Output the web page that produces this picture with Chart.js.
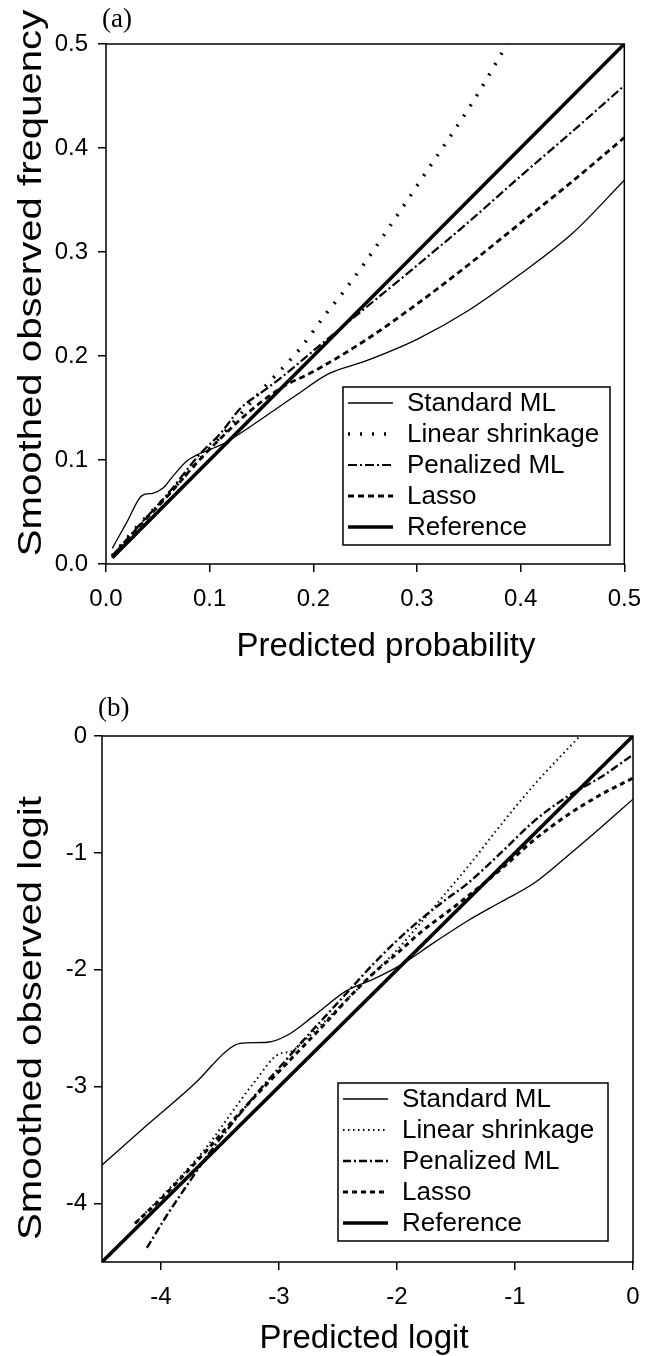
<!DOCTYPE html>
<html lang="en">
<head>
<meta charset="UTF-8">
<title>Calibration plots</title>
<script src="https://cdn.jsdelivr.net/npm/chart.js@4.4.1/dist/chart.umd.min.js"></script>
<style>
  html, body { margin: 0; padding: 0; background: #fff; }
  .panel { width: 654px; height: 678px; }
  canvas { display: block; }
</style>
</head>
<body>
<div class="panel"><canvas id="chartA" width="654" height="678"></canvas></div>
<div class="panel"><canvas id="chartB" width="654" height="678"></canvas></div>

<script>
// series names (same order in both panels)
const seriesNames = ['Standard ML', 'Linear shrinkage', 'Penalized ML', 'Lasso', 'Reference'];

// ---- panel (a): probability scale ----
const aStdX = [0.006, 0.02, 0.035, 0.045, 0.055, 0.065, 0.078, 0.09, 0.1, 0.114, 0.13, 0.158, 0.183, 0.215, 0.25, 0.3, 0.35, 0.4, 0.45, 0.5];
const aStdY = [0.015, 0.04, 0.066, 0.068, 0.073, 0.085, 0.099, 0.106, 0.11, 0.116, 0.126, 0.145, 0.162, 0.183, 0.195, 0.216, 0.244, 0.279, 0.318, 0.369];
const aLinX = [0.006, 0.03, 0.06, 0.09, 0.12, 0.15, 0.188, 0.211, 0.227, 0.25, 0.272, 0.309, 0.353, 0.387];
const aLinY = [0.008, 0.036, 0.067, 0.1, 0.133, 0.167, 0.208, 0.239, 0.259, 0.29, 0.322, 0.377, 0.443, 0.5];
const aPenX = [0.006, 0.03, 0.06, 0.09, 0.11, 0.13, 0.15, 0.17, 0.2, 0.25, 0.3, 0.35, 0.4, 0.45, 0.5];
const aPenY = [0.008, 0.035, 0.068, 0.105, 0.125, 0.15, 0.165, 0.18, 0.205, 0.246, 0.287, 0.329, 0.373, 0.416, 0.46];
const aLasX = [0.006, 0.03, 0.06, 0.09, 0.12, 0.14, 0.17, 0.2, 0.25, 0.3, 0.35, 0.4, 0.45, 0.5];
const aLasY = [0.007, 0.034, 0.066, 0.1, 0.13, 0.148, 0.17, 0.185, 0.215, 0.25, 0.288, 0.328, 0.368, 0.41];
const aRefX = [0.006, 0.5];
const aRefY = [0.006, 0.5];
const aTickValues = [0, 0.1, 0.2, 0.3, 0.4, 0.5];
const aTickLabels = ['0.0', '0.1', '0.2', '0.3', '0.4', '0.5'];

// ---- panel (b): logit scale ----
const bStdX = [-4.5, -4.12, -3.7, -3.44, -3.33, -3.1, -2.93, -2.7, -2.43, -2.2, -1.97, -1.69, -1.4, -1.12, -0.84, -0.56, -0.27, 0];
const bStdY = [-3.67, -3.33, -2.96, -2.69, -2.63, -2.62, -2.56, -2.39, -2.18, -2.08, -1.96, -1.77, -1.58, -1.42, -1.26, -1.03, -0.78, -0.54];
const bLinX = [-4.22, -3.9, -3.6, -3.4, -3.2, -3.0, -2.9, -2.8, -2.6, -2.4, -2.2, -2.0, -1.8, -1.55, -1.4, -1.12, -0.84, -0.45];
const bLinY = [-4.17, -3.84, -3.5, -3.22, -2.95, -2.72, -2.7, -2.62, -2.43, -2.23, -2.03, -1.83, -1.6, -1.3, -1.12, -0.76, -0.42, 0];
const bPenX = [-4.12, -3.95, -3.75, -3.6, -3.4, -3.2, -3.0, -2.8, -2.6, -2.4, -2.2, -2.0, -1.8, -1.6, -1.4, -1.12, -0.84, -0.56, -0.27, 0];
const bPenY = [-4.38, -4.1, -3.8, -3.58, -3.32, -3.07, -2.84, -2.61, -2.39, -2.17, -1.95, -1.75, -1.57, -1.41, -1.26, -1.0, -0.73, -0.52, -0.35, -0.16];
const bLasX = [-4.22, -4.0, -3.8, -3.6, -3.4, -3.2, -3.0, -2.8, -2.6, -2.4, -2.2, -2.0, -1.8, -1.5, -1.12, -0.84, -0.56, -0.27, 0];
const bLasY = [-4.17, -3.96, -3.75, -3.53, -3.3, -3.08, -2.87, -2.66, -2.45, -2.23, -2.03, -1.86, -1.68, -1.45, -1.14, -0.89, -0.68, -0.5, -0.36];
const bRefX = [-4.5, 0];
const bRefY = [-4.5, 0];
const bTickValues = [-4, -3, -2, -1, 0];
const bTickLabels = ['-4', '-3', '-2', '-1', '0'];

const FONT = "'Liberation Sans', Arial, Helvetica, sans-serif";

function pts(xs, ys) {
    return xs.map((x, i) => ({x: x, y: ys[i]}));
}

// line styles: [width, dash]
const stylesA = [[1.3, []], [3.5, [2, 10]], [2.2, [9, 3, 2, 3]], [2.8, [6, 4]], [3.6, []]];
const stylesB = [[1.3, []], [2, [1.5, 3.5]], [2.4, [8, 3, 2, 3]], [3, [5, 4]], [3.6, []]];

function makeDatasets(series, styles) {
    return series.map((s, i) => ({
        label: seriesNames[i],
        data: pts(s[0], s[1]),
        borderColor: '#000',
        backgroundColor: '#000',
        borderWidth: styles[i][0],
        borderDash: styles[i][1],
        pointRadius: 0,
        cubicInterpolationMode: 'monotone',
        fill: false
    }));
}

// box around plot, panel letter, axis titles and inner legend
const framePlugin = {
    id: 'frame',
    afterDraw(chart, args, opts) {
        const ctx = chart.ctx;
        const a = chart.chartArea;
        ctx.save();
        ctx.strokeStyle = '#000';
        ctx.lineWidth = 1.5;
        ctx.setLineDash([]);
        ctx.strokeRect(a.left, a.top, a.right - a.left, a.bottom - a.top);

        ctx.fillStyle = '#000';
        // panel letter
        ctx.font = "27px 'Liberation Serif', 'Times New Roman', serif";
        ctx.textBaseline = 'middle';
        ctx.textAlign = 'left';
        ctx.fillText(opts.letter, a.left - 4, opts.letterY);

        // x title
        ctx.font = '33px ' + FONT;
        ctx.textAlign = 'center';
        ctx.textBaseline = 'alphabetic';
        ctx.fillText(opts.xTitle.text, opts.xTitle.x, opts.xTitle.y);

        // y title (rotated, slightly stretched along its length like the scan)
        ctx.save();
        ctx.translate(opts.yTitle.x, opts.yTitle.y);
        ctx.rotate(-Math.PI / 2);
        ctx.scale(1.18, 1);
        ctx.font = '34px ' + FONT;
        ctx.fillText(opts.yTitle.text, 0, 0);
        ctx.restore();

        // legend
        const L = opts.legend;
        ctx.fillStyle = '#fff';
        ctx.fillRect(L.left, L.top, L.width, L.height);
        ctx.strokeStyle = '#000';
        ctx.lineWidth = 1.5;
        ctx.strokeRect(L.left, L.top, L.width, L.height);
        ctx.font = '26px ' + FONT;
        ctx.textAlign = 'left';
        ctx.textBaseline = 'middle';
        chart.data.datasets.forEach((ds, i) => {
            const y = L.top + 16 + i * 31;
            ctx.beginPath();
            ctx.lineWidth = ds.borderWidth;
            ctx.setLineDash(ds.borderDash);
            ctx.moveTo(L.left + 5, y);
            ctx.lineTo(L.left + 50, y);
            ctx.stroke();
            ctx.setLineDash([]);
            ctx.fillStyle = '#000';
            ctx.fillText(ds.label, L.left + 64, y + 1);
        });
        ctx.restore();
    }
};

function makeChart(id, cfg) {
    return new Chart(document.getElementById(id), {
        type: 'line',
        data: {datasets: makeDatasets(cfg.series, cfg.styles)},
        options: {
            responsive: false,
            animation: false,
            devicePixelRatio: 1,
            layout: {padding: cfg.padding},
            plugins: {
                legend: {display: false},
                tooltip: {enabled: false},
                frame: cfg.frame
            },
            scales: {
                x: {
                    type: 'linear',
                    min: cfg.min, max: cfg.max,
                    afterFit: s => { s.height = cfg.xHeight; },
                    afterBuildTicks: s => { s.ticks = cfg.ticks.map(v => ({value: v})); },
                    grid: {display: true, drawOnChartArea: false, drawTicks: true, tickLength: 8, color: '#000', lineWidth: 1.5},
                    border: {display: false},
                    ticks: {
                        autoSkip: false, maxRotation: 0, padding: 13, color: '#000',
                        font: {family: FONT, size: 24},
                        callback: (v, i) => cfg.labels[i]
                    }
                },
                y: {
                    type: 'linear',
                    min: cfg.min, max: cfg.max,
                    afterFit: s => { s.width = cfg.yWidth; },
                    afterBuildTicks: s => { s.ticks = cfg.ticks.map(v => ({value: v})); },
                    grid: {display: true, drawOnChartArea: false, drawTicks: true, tickLength: 8, color: '#000', lineWidth: 1.5},
                    border: {display: false},
                    ticks: {
                        autoSkip: false, padding: cfg.yTickPad, color: '#000',
                        font: {family: FONT, size: 24},
                        callback: (v, i) => cfg.labels[i]
                    }
                }
            }
        },
        plugins: [framePlugin]
    });
}

makeChart('chartA', {
    series: [[aStdX, aStdY], [aLinX, aLinY], [aPenX, aPenY], [aLasX, aLasY], [aRefX, aRefY]],
    styles: stylesA,
    min: 0, max: 0.5,
    ticks: aTickValues, labels: aTickLabels,
    padding: {left: 0, top: 44, right: 18, bottom: 0},
    xHeight: 114, yWidth: 106, yTickPad: 10,
    frame: {
        letter: '(a)', letterY: 20,
        xTitle: {text: 'Predicted probability', x: 386, y: 656},
        yTitle: {text: 'Smoothed observed frequency', x: 41, y: 283},
        legend: {left: 343, top: 387, width: 267, height: 158}
    }
});

makeChart('chartB', {
    series: [[bStdX, bStdY], [bLinX, bLinY], [bPenX, bPenY], [bLasX, bLasY], [bRefX, bRefY]],
    styles: stylesB,
    min: -4.5, max: 0,
    ticks: bTickValues, labels: bTickLabels,
    padding: {left: 0, top: 58, right: 21, bottom: 0},
    xHeight: 94, yWidth: 102, yTickPad: 7,
    frame: {
        letter: '(b)', letterY: 31,
        xTitle: {text: 'Predicted logit', x: 364, y: 670},
        yTitle: {text: 'Smoothed observed logit', x: 41, y: 340},
        legend: {left: 338, top: 405, width: 270, height: 158}
    }
});
</script>
</body>
</html>
